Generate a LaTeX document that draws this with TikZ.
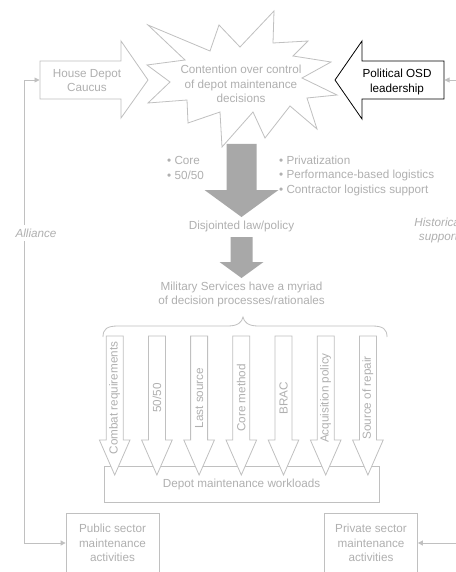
\documentclass[tikz,border=0pt]{standalone}
\usepackage{fontspec}
\setmainfont{Liberation Sans}
\usetikzlibrary{arrows.meta}
\definecolor{txtgray}{RGB}{176,176,176}
\definecolor{linegray}{RGB}{192,192,192}
\definecolor{fatgray}{RGB}{168,168,168}
\begin{document}
\begin{tikzpicture}[x=1pt,y=-1pt,
  every node/.style={font=\fontsize{11.7}{14.5}\selectfont, text=txtgray, inner sep=0pt, align=center},
  outline/.style={draw=linegray, line width=0.8pt, line join=miter},
  fatarrow/.style={fill=fatgray, draw=none},
  tip/.style={-{Triangle[length=5pt,width=5pt]}},
  conn/.style={draw=linegray, line width=0.8pt},
  sectorbox/.style={draw=linegray, line width=0.8pt, minimum width=93pt, minimum height=60pt},
  sidelabel/.style={font=\fontsize{11.7}{14.5}\selectfont\itshape, fill=white, inner sep=4pt}
]
\useasboundingbox (0,0) rectangle (455,572);
\fill[white] (0,0) rectangle (455,572);

% --- contention starburst ---
\draw[outline, fill=white] (148,25) -- (210,51) -- (219,25) -- (240,47) -- (274,11) -- (273,43)
  -- (308,41) -- (293,56) -- (331,62) -- (302,78) -- (337,95) -- (307,98) -- (317,129)
  -- (290,106) -- (265,138) -- (253,112) -- (222,147) -- (220,112) -- (188,123) -- (187,100)
  -- (148,103) -- (170,82) -- (147,65) -- (185,60) -- cycle;
\node (burst) at (241,84) {Contention over control\\of depot maintenance\\decisions};

% --- House Depot Caucus (right-pointing block arrow) ---
\draw[outline, fill=white] (40,61) -- (121,61) -- (121,41) -- (148,80) -- (121,118) -- (121,99) -- (40,99) -- cycle;
\node (house) at (87,80.5) {House Depot\\Caucus};
\coordinate (houseTail) at (39.5,80);

% --- Political OSD leadership (left-pointing block arrow) ---
\draw[draw=black, line width=0.8pt, fill=white] (335,80) -- (362,41) -- (362,61) -- (444,61) -- (444,99) -- (362,99) -- (362,119) -- cycle;
\node[text=black] (osd) at (397,82) {Political OSD\\leadership};
\coordinate (osdTail) at (444.5,80);
\coordinate (osdFeed) at (462,80);

% --- law/policy flow ---
\fill[fatarrow] (226.5,144) -- (256.5,144) -- (256.5,190) -- (278.5,190) -- (241.5,217) -- (204.5,190) -- (226.5,190) -- cycle;
\node[anchor=west, align=left] (coreList) at (167,168) {• Core\\• 50/50};
\node[anchor=west, align=left] (privList) at (279,175.5) {• Privatization\\• Performance-based logistics\\• Contractor logistics support};
\node (law) at (241.5,226) {Disjointed law/policy};

\fill[fatarrow] (230.5,237) -- (252.5,237) -- (252.5,262) -- (263.5,262) -- (241.5,278) -- (219.5,262) -- (230.5,262) -- cycle;
\node (services) at (241.5,294.5) {Military Services have a myriad\\of decision processes/rationales};

% --- brace over the decision arrows ---
\draw[conn] (103,337) .. controls (103,329) and (107,326) .. (118,326) -- (228,326)
  .. controls (238,326) and (242,322) .. (243,317) .. controls (244,322) and (248,326) .. (258,326)
  -- (372,326) .. controls (383,326) and (387,329) .. (387,337);

% --- workloads box and decision arrows ---
\node[draw=linegray, line width=0.8pt, minimum width=275pt, minimum height=36pt] (work) at (241.5,484) {};
\node (workText) at (241.5,484) {Depot maintenance workloads};
\foreach \i/\lab in {0/{Combat requirements},1/{50/50},2/{Last source},3/{Core method},4/BRAC,5/{Acquisition policy},6/{Source of repair}}{
  \pgfmathsetmacro{\cx}{114.7+42.2*\i}
  \draw[outline, fill=white] ({\cx-8.5},336) -- ({\cx+8.5},336) -- ({\cx+8.5},440) -- ({\cx+15.3},440)
    -- (\cx,475) -- ({\cx-15.3},440) -- ({\cx-8.5},440) -- cycle;
  \node[rotate=90] (why\i) at (\cx,398) {\lab};
}

% --- sector boxes ---
\node[sectorbox] (pub) at (112.5,543) {Public sector\\maintenance\\activities};
\node[sectorbox] (priv) at (371,543) {Private sector\\maintenance\\activities};
\coordinate (privFeed) at (462,543);

% --- connectors ---
\draw[conn, {Triangle[length=5pt,width=5pt]}-{Triangle[length=5pt,width=5pt]}] (houseTail) -- ++(-15.5,0) |- (pub.west);
\node[sidelabel] (alliance) at (36,233) {Alliance};
\draw[conn, tip] (osdFeed) -- (osdTail);
\draw[conn, tip] (privFeed) -- (priv.east);
\node[sidelabel, inner sep=0pt, fill=none] (historic) at (438.5,230.5) {Historical\\support};
\end{tikzpicture}
\end{document}
